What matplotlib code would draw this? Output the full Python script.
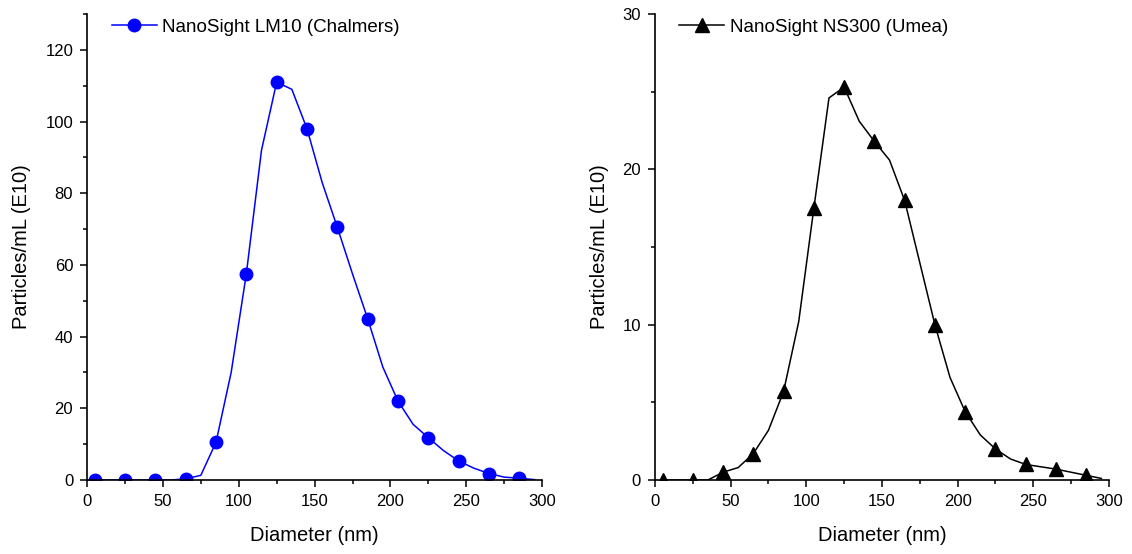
import matplotlib
matplotlib.use("Agg")
from matplotlib import pyplot as plt
from matplotlib.ticker import MultipleLocator

plt.rcParams["font.family"] = ["Liberation Sans", "DejaVu Sans"]

# size bins, nm (every 10 nm)
diameter = [5, 15, 25, 35, 45, 55, 65, 75, 85, 95, 105, 115, 125, 135, 145,
            155, 165, 175, 185, 195, 205, 215, 225, 235, 245, 255, 265, 275, 285, 295]

# particles/mL (E10)
lm10 = [0, 0, 0, 0, 0, 0, 0.3, 1.3, 10.5, 30, 57.5, 92, 111, 109, 98,
        83, 70.5, 57.5, 45, 31.5, 22, 15.5, 11.8, 8.2, 5.3, 3.3, 1.8, 0.8, 0.5, 0.1]
ns300 = [0, 0, 0, 0, 0.5, 0.8, 1.7, 3.2, 5.7, 10.2, 17.5, 24.6, 25.3, 23.1, 21.8,
         20.6, 18.0, 14.0, 10.0, 6.6, 4.4, 2.9, 2.0, 1.35, 1.0, 0.85, 0.7, 0.5, 0.3, 0.1]

fig = plt.figure(figsize=(11.32, 5.54), dpi=100)
ax1 = fig.add_axes([0.0769, 0.1336, 0.402, 0.841])
ax2 = fig.add_axes([0.5786, 0.1336, 0.401, 0.841])

ax1.plot(diameter, lm10, color="#0000ff", lw=1.1, marker="o", markersize=9,
         markevery=2, label="NanoSight LM10 (Chalmers)")
ax2.plot(diameter, ns300, color="black", lw=1.1, marker="^", markersize=9.5,
         markevery=2, label="NanoSight NS300 (Umea)")

for ax, ymax, ystep in [(ax1, 130, 20), (ax2, 30, 10)]:
    ax.set_xlim(0, 300)
    ax.set_ylim(0, ymax)
    ax.xaxis.set_major_locator(MultipleLocator(50))
    ax.xaxis.set_minor_locator(MultipleLocator(25))
    ax.yaxis.set_major_locator(MultipleLocator(ystep))
    ax.yaxis.set_minor_locator(MultipleLocator(ystep / 2))
    ax.spines["top"].set_visible(False)
    ax.spines["right"].set_visible(False)
    ax.spines["left"].set_linewidth(1.2)
    ax.spines["bottom"].set_linewidth(1.2)
    ax.tick_params(which="major", direction="out", length=5, width=1.1,
                   labelsize=12, pad=5)
    ax.tick_params(which="minor", direction="out", length=3, width=1.1)
    ax.set_xlabel("Diameter (nm)", fontsize=14.5, labelpad=12)
    ax.set_ylabel("Particles/mL (E10)", fontsize=14.5, labelpad=10)
    ax.legend(loc="upper left", frameon=False, fontsize=13.5, handlelength=2.4,
              handletextpad=0.3, borderaxespad=0.3, bbox_to_anchor=(0.025, 1.018))

fig.savefig("out.png", dpi=100)
